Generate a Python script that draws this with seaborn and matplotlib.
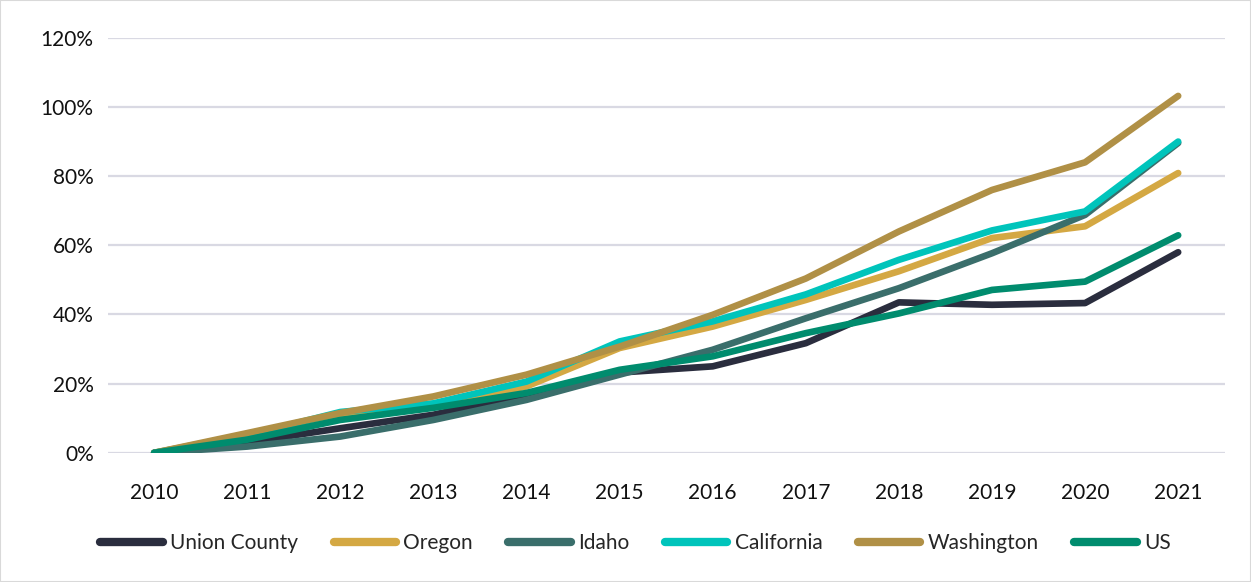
import pandas as pd
import matplotlib
matplotlib.use('Agg')
import matplotlib.pyplot as plt
import seaborn as sns
from matplotlib.ticker import PercentFormatter

years = list(range(2010, 2022))

union_county = [0, 3.0, 7.1, 11.0, 17.0, 23.2, 25.0, 31.7, 43.5, 42.8, 43.3, 58.0]
oregon = [0, 5.3, 10.5, 13.4, 19.2, 30.3, 36.5, 44.2, 52.5, 62.1, 65.5, 80.9]
idaho = [0, 1.8, 4.7, 9.5, 15.3, 22.6, 29.8, 38.9, 47.6, 57.7, 68.8, 89.6]
california = [0, 5.0, 11.8, 14.3, 20.6, 32.2, 38.0, 45.8, 55.8, 64.3, 69.8, 90.0]
washington = [0, 5.7, 11.5, 16.3, 22.6, 30.7, 39.9, 50.4, 64.0, 76.0, 84.0, 103.2]
us = [0, 3.8, 9.5, 13.0, 17.3, 24.0, 27.9, 34.6, 40.3, 47.1, 49.5, 62.9]

series = {
    'Union County': union_county,
    'Oregon': oregon,
    'Idaho': idaho,
    'California': california,
    'Washington': washington,
    'US': us,
}
colors = ['#2a2d3e', '#d4a843', '#3a6e6b', '#00c4bb', '#b09046', '#008c6e']

rows = []
for name, vals in series.items():
    for y, v in zip(years, vals):
        rows.append({'year': y, 'value': v, 'region': name})
df = pd.DataFrame(rows)

sns.set_style('white')
plt.rcParams['font.family'] = ['Lato', 'DejaVu Sans']

fig = plt.figure(figsize=(12.51, 5.82), dpi=100)
ax = fig.add_axes([0.086, 0.222, 0.893, 0.713])

sns.lineplot(data=df, x='year', y='value', hue='region', palette=colors,
             hue_order=list(series.keys()), linewidth=4.8, ax=ax,
             solid_capstyle='round', legend=False)

ax.set_xlim(2009.5, 2021.5)
ax.set_ylim(0, 120)
ax.set_yticks(range(0, 121, 20))
ax.set_xticks(years)
ax.yaxis.set_major_formatter(PercentFormatter(decimals=0))
ax.grid(axis='y', color='#d9d9e3', linewidth=1.6)
ax.set_axisbelow(True)
for s in ax.spines.values():
    s.set_visible(False)
ax.tick_params(axis='x', length=0, pad=22, labelsize=15, colors='#111111')
ax.tick_params(axis='y', length=0, pad=10, labelsize=15, colors='#111111')
ax.set_xlabel('')
ax.set_ylabel('')

handles = [plt.Line2D([], [], color=c, linewidth=6, solid_capstyle='round') for c in colors]
fig.legend(handles, list(series.keys()), loc='center', bbox_to_anchor=(0.508, 0.067),
           ncol=6, frameon=False, fontsize=15, handlelength=3.0, handletextpad=0.35,
           columnspacing=1.7)

fig.patches.append(plt.Rectangle((0, 0), 1, 1, transform=fig.transFigure,
                                 fill=False, edgecolor='#d9d9d9', linewidth=1.5))

fig.savefig('out.png', dpi=100)
